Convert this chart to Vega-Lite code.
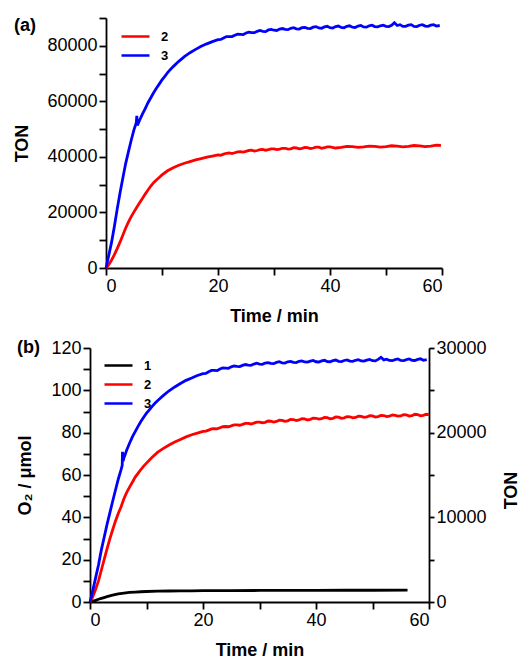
{
  "$schema": "https://vega.github.io/schema/vega-lite/v6.json",
  "padding": {"left": 13, "top": 17, "right": 0, "bottom": 0},
  "background": "white",
  "config": {
    "view": {"stroke": null},
    "font": "Liberation Sans",
    "axis": {
      "grid": false,
      "domainColor": "#000",
      "domainWidth": 1.8,
      "tickColor": "#000",
      "tickWidth": 1.8,
      "tickSize": 7,
      "labelFont": "Liberation Sans",
      "labelFontSize": 18,
      "labelColor": "#000",
      "labelPadding": 2,
      "titleFont": "Liberation Sans",
      "titleFontSize": 18,
      "titleFontWeight": "bold",
      "titleColor": "#000"
    },
    "legend": {
      "labelFont": "Liberation Sans",
      "labelFontSize": 13,
      "labelFontWeight": "bold",
      "labelColor": "#000",
      "symbolType": "M-2,0H2",
      "symbolSize": 196,
      "symbolStrokeWidth": 2.5,
      "symbolOffset": 7,
      "labelOffset": 17,
      "rowPadding": 3,
      "padding": 0,
      "title": null
    }
  },
  "columns": 1,
  "spacing": 14,
  "resolve": {"scale": {"color": "independent"}},
  "datasets": {
    "a": [
      {"t": 0, "v": 0, "s": "2"}, {"t": 0.5, "v": 1200, "s": "2"}, {"t": 1, "v": 2900, "s": "2"}, {"t": 1.5, "v": 4800, "s": "2"}, {"t": 2, "v": 7000, "s": "2"}, {"t": 2.5, "v": 9300, "s": "2"}, {"t": 3, "v": 11800, "s": "2"}, {"t": 3.5, "v": 14300, "s": "2"}, {"t": 4, "v": 16500, "s": "2"}, {"t": 4.5, "v": 18500, "s": "2"}, {"t": 5, "v": 20200, "s": "2"}, {"t": 5.5, "v": 21900, "s": "2"}, {"t": 6, "v": 23500, "s": "2"}, {"t": 6.5, "v": 25000, "s": "2"}, {"t": 7, "v": 26600, "s": "2"}, {"t": 7.5, "v": 28100, "s": "2"}, {"t": 8, "v": 29500, "s": "2"}, {"t": 8.5, "v": 30700, "s": "2"}, {"t": 9, "v": 31700, "s": "2"}, {"t": 9.5, "v": 32600, "s": "2"}, {"t": 10, "v": 33500, "s": "2"}, {"t": 11, "v": 35000, "s": "2"}, {"t": 12, "v": 36100, "s": "2"}, {"t": 13, "v": 37000, "s": "2"}, {"t": 14, "v": 37700, "s": "2"}, {"t": 15, "v": 38300, "s": "2"}, {"t": 16, "v": 38900, "s": "2"}, {"t": 17, "v": 39400, "s": "2"}, {"t": 18, "v": 39900, "s": "2"}, {"t": 19, "v": 40300, "s": "2"}, {"t": 20, "v": 40700, "s": "2"}, {"t": 20.5, "v": 40600, "s": "2"}, {"t": 21, "v": 41000, "s": "2"}, {"t": 21.5, "v": 41300, "s": "2"}, {"t": 22, "v": 41400, "s": "2"}, {"t": 22.5, "v": 41200, "s": "2"}, {"t": 23, "v": 41500, "s": "2"}, {"t": 23.5, "v": 41800, "s": "2"}, {"t": 24, "v": 41900, "s": "2"}, {"t": 24.5, "v": 41700, "s": "2"}, {"t": 25, "v": 42000, "s": "2"}, {"t": 25.5, "v": 42300, "s": "2"}, {"t": 26, "v": 42400, "s": "2"}, {"t": 26.5, "v": 42100, "s": "2"}, {"t": 27, "v": 42300, "s": "2"}, {"t": 27.5, "v": 42600, "s": "2"}, {"t": 28, "v": 42700, "s": "2"}, {"t": 28.5, "v": 42400, "s": "2"}, {"t": 29, "v": 42600, "s": "2"}, {"t": 29.5, "v": 42900, "s": "2"}, {"t": 30, "v": 42900, "s": "2"}, {"t": 30.5, "v": 42600, "s": "2"}, {"t": 31, "v": 42800, "s": "2"}, {"t": 31.5, "v": 43100, "s": "2"}, {"t": 32, "v": 43100, "s": "2"}, {"t": 32.5, "v": 42800, "s": "2"}, {"t": 33, "v": 42900, "s": "2"}, {"t": 33.5, "v": 43300, "s": "2"}, {"t": 34, "v": 43200, "s": "2"}, {"t": 34.5, "v": 42900, "s": "2"}, {"t": 35, "v": 43100, "s": "2"}, {"t": 35.5, "v": 43400, "s": "2"}, {"t": 36, "v": 43300, "s": "2"}, {"t": 36.5, "v": 43000, "s": "2"}, {"t": 37, "v": 43200, "s": "2"}, {"t": 37.5, "v": 43500, "s": "2"}, {"t": 38, "v": 43500, "s": "2"}, {"t": 38.5, "v": 43100, "s": "2"}, {"t": 39, "v": 43300, "s": "2"}, {"t": 39.5, "v": 43600, "s": "2"}, {"t": 40, "v": 43600, "s": "2"}, {"t": 41, "v": 43200, "s": "2"}, {"t": 42, "v": 43400, "s": "2"}, {"t": 43, "v": 43800, "s": "2"}, {"t": 44, "v": 43700, "s": "2"}, {"t": 45, "v": 43400, "s": "2"}, {"t": 46, "v": 43600, "s": "2"}, {"t": 47, "v": 43900, "s": "2"}, {"t": 48, "v": 43800, "s": "2"}, {"t": 49, "v": 43500, "s": "2"}, {"t": 50, "v": 43700, "s": "2"}, {"t": 51, "v": 44000, "s": "2"}, {"t": 52, "v": 43900, "s": "2"}, {"t": 53, "v": 43600, "s": "2"}, {"t": 54, "v": 43800, "s": "2"}, {"t": 55, "v": 44100, "s": "2"}, {"t": 56, "v": 44000, "s": "2"}, {"t": 57, "v": 43700, "s": "2"}, {"t": 58, "v": 43900, "s": "2"}, {"t": 59, "v": 44200, "s": "2"}, {"t": 59.8, "v": 44100, "s": "2"},
      {"t": 0, "v": 0, "s": "3"}, {"t": 0.5, "v": 4600, "s": "3"}, {"t": 1, "v": 9300, "s": "3"}, {"t": 1.5, "v": 15000, "s": "3"}, {"t": 2, "v": 21200, "s": "3"}, {"t": 2.5, "v": 27000, "s": "3"}, {"t": 3, "v": 32300, "s": "3"}, {"t": 3.5, "v": 37500, "s": "3"}, {"t": 4, "v": 41800, "s": "3"}, {"t": 4.5, "v": 46000, "s": "3"}, {"t": 5, "v": 49800, "s": "3"}, {"t": 5.4, "v": 52200, "s": "3"}, {"t": 5.5, "v": 54800, "s": "3"}, {"t": 5.6, "v": 51300, "s": "3"}, {"t": 6, "v": 53200, "s": "3"}, {"t": 6.5, "v": 55400, "s": "3"}, {"t": 7, "v": 57400, "s": "3"}, {"t": 7.5, "v": 59500, "s": "3"}, {"t": 8, "v": 61300, "s": "3"}, {"t": 8.5, "v": 63100, "s": "3"}, {"t": 9, "v": 64700, "s": "3"}, {"t": 9.5, "v": 66200, "s": "3"}, {"t": 10, "v": 67700, "s": "3"}, {"t": 10.5, "v": 69000, "s": "3"}, {"t": 11, "v": 70300, "s": "3"}, {"t": 11.5, "v": 71500, "s": "3"}, {"t": 12, "v": 72500, "s": "3"}, {"t": 13, "v": 74400, "s": "3"}, {"t": 14, "v": 76100, "s": "3"}, {"t": 15, "v": 77500, "s": "3"}, {"t": 16, "v": 78700, "s": "3"}, {"t": 17, "v": 79800, "s": "3"}, {"t": 18, "v": 80700, "s": "3"}, {"t": 19, "v": 81500, "s": "3"}, {"t": 20, "v": 82200, "s": "3"}, {"t": 20.5, "v": 82300, "s": "3"}, {"t": 21, "v": 82800, "s": "3"}, {"t": 21.5, "v": 83300, "s": "3"}, {"t": 22, "v": 83300, "s": "3"}, {"t": 22.5, "v": 83300, "s": "3"}, {"t": 23, "v": 83800, "s": "3"}, {"t": 23.5, "v": 84200, "s": "3"}, {"t": 24, "v": 84100, "s": "3"}, {"t": 24.5, "v": 84000, "s": "3"}, {"t": 25, "v": 84600, "s": "3"}, {"t": 25.5, "v": 84900, "s": "3"}, {"t": 26, "v": 84700, "s": "3"}, {"t": 26.5, "v": 84700, "s": "3"}, {"t": 27, "v": 85200, "s": "3"}, {"t": 27.5, "v": 85500, "s": "3"}, {"t": 28, "v": 85200, "s": "3"}, {"t": 28.5, "v": 85100, "s": "3"}, {"t": 29, "v": 85700, "s": "3"}, {"t": 29.5, "v": 85900, "s": "3"}, {"t": 30, "v": 85600, "s": "3"}, {"t": 30.5, "v": 85500, "s": "3"}, {"t": 31, "v": 86000, "s": "3"}, {"t": 31.5, "v": 86200, "s": "3"}, {"t": 32, "v": 85900, "s": "3"}, {"t": 32.5, "v": 85800, "s": "3"}, {"t": 33, "v": 86300, "s": "3"}, {"t": 33.5, "v": 86500, "s": "3"}, {"t": 34, "v": 86100, "s": "3"}, {"t": 34.5, "v": 86000, "s": "3"}, {"t": 35, "v": 86500, "s": "3"}, {"t": 35.5, "v": 86600, "s": "3"}, {"t": 36, "v": 86300, "s": "3"}, {"t": 36.5, "v": 86200, "s": "3"}, {"t": 37, "v": 86700, "s": "3"}, {"t": 37.5, "v": 86900, "s": "3"}, {"t": 38, "v": 86400, "s": "3"}, {"t": 38.5, "v": 86300, "s": "3"}, {"t": 39, "v": 86800, "s": "3"}, {"t": 39.5, "v": 87000, "s": "3"}, {"t": 40, "v": 86500, "s": "3"}, {"t": 40.5, "v": 86400, "s": "3"}, {"t": 41, "v": 86900, "s": "3"}, {"t": 41.5, "v": 87100, "s": "3"}, {"t": 42, "v": 86600, "s": "3"}, {"t": 42.5, "v": 86500, "s": "3"}, {"t": 43, "v": 87000, "s": "3"}, {"t": 43.5, "v": 87200, "s": "3"}, {"t": 44, "v": 86700, "s": "3"}, {"t": 44.5, "v": 86600, "s": "3"}, {"t": 45, "v": 87100, "s": "3"}, {"t": 45.5, "v": 87300, "s": "3"}, {"t": 46, "v": 86800, "s": "3"}, {"t": 46.5, "v": 86700, "s": "3"}, {"t": 47, "v": 87200, "s": "3"}, {"t": 47.5, "v": 87400, "s": "3"}, {"t": 48, "v": 86900, "s": "3"}, {"t": 48.5, "v": 86800, "s": "3"}, {"t": 49, "v": 87200, "s": "3"}, {"t": 49.5, "v": 87400, "s": "3"}, {"t": 50, "v": 87000, "s": "3"}, {"t": 50.5, "v": 86900, "s": "3"}, {"t": 51, "v": 87400, "s": "3"}, {"t": 51.5, "v": 88300, "s": "3"}, {"t": 52, "v": 87300, "s": "3"}, {"t": 52.5, "v": 87600, "s": "3"}, {"t": 53, "v": 87000, "s": "3"}, {"t": 53.5, "v": 87000, "s": "3"}, {"t": 54, "v": 87400, "s": "3"}, {"t": 54.5, "v": 87600, "s": "3"}, {"t": 55, "v": 87000, "s": "3"}, {"t": 55.5, "v": 86900, "s": "3"}, {"t": 56, "v": 87400, "s": "3"}, {"t": 56.5, "v": 87600, "s": "3"}, {"t": 57, "v": 87100, "s": "3"}, {"t": 57.5, "v": 87000, "s": "3"}, {"t": 58, "v": 87400, "s": "3"}, {"t": 58.5, "v": 87600, "s": "3"}, {"t": 59, "v": 87100, "s": "3"}, {"t": 59.6, "v": 87300, "s": "3"}
    ],
    "b": [
      {"t": 0, "v": 0, "s": "1"}, {"t": 0.5, "v": 0.4, "s": "1"}, {"t": 1, "v": 0.8, "s": "1"}, {"t": 1.5, "v": 1.3, "s": "1"}, {"t": 2, "v": 1.7, "s": "1"}, {"t": 2.5, "v": 2.1, "s": "1"}, {"t": 3, "v": 2.5, "s": "1"}, {"t": 3.5, "v": 2.9, "s": "1"}, {"t": 4, "v": 3.2, "s": "1"}, {"t": 5, "v": 3.8, "s": "1"}, {"t": 6, "v": 4.2, "s": "1"}, {"t": 7, "v": 4.5, "s": "1"}, {"t": 8, "v": 4.7, "s": "1"}, {"t": 9, "v": 4.85, "s": "1"}, {"t": 10, "v": 4.95, "s": "1"}, {"t": 12, "v": 5.1, "s": "1"}, {"t": 14, "v": 5.2, "s": "1"}, {"t": 16, "v": 5.25, "s": "1"}, {"t": 18, "v": 5.3, "s": "1"}, {"t": 20, "v": 5.35, "s": "1"}, {"t": 25, "v": 5.4, "s": "1"}, {"t": 30, "v": 5.45, "s": "1"}, {"t": 35, "v": 5.5, "s": "1"}, {"t": 40, "v": 5.5, "s": "1"}, {"t": 45, "v": 5.55, "s": "1"}, {"t": 50, "v": 5.55, "s": "1"}, {"t": 56.2, "v": 5.6, "s": "1"},
      {"t": 0, "v": 0, "s": "2"}, {"t": 0.5, "v": 2.5, "s": "2"}, {"t": 1, "v": 6, "s": "2"}, {"t": 1.5, "v": 10, "s": "2"}, {"t": 2, "v": 15, "s": "2"}, {"t": 2.5, "v": 20, "s": "2"}, {"t": 3, "v": 25, "s": "2"}, {"t": 3.5, "v": 29.7, "s": "2"}, {"t": 4, "v": 34, "s": "2"}, {"t": 4.5, "v": 38.2, "s": "2"}, {"t": 5, "v": 41.8, "s": "2"}, {"t": 5.5, "v": 45, "s": "2"}, {"t": 6, "v": 48.8, "s": "2"}, {"t": 6.5, "v": 51.8, "s": "2"}, {"t": 7, "v": 54.3, "s": "2"}, {"t": 7.5, "v": 56.6, "s": "2"}, {"t": 8, "v": 59, "s": "2"}, {"t": 8.5, "v": 60.8, "s": "2"}, {"t": 9, "v": 62.6, "s": "2"}, {"t": 9.5, "v": 64.2, "s": "2"}, {"t": 10, "v": 65.6, "s": "2"}, {"t": 11, "v": 68.4, "s": "2"}, {"t": 12, "v": 70.8, "s": "2"}, {"t": 13, "v": 72.6, "s": "2"}, {"t": 14, "v": 74.2, "s": "2"}, {"t": 15, "v": 75.6, "s": "2"}, {"t": 16, "v": 76.8, "s": "2"}, {"t": 17, "v": 78, "s": "2"}, {"t": 18, "v": 79, "s": "2"}, {"t": 19, "v": 79.8, "s": "2"}, {"t": 20, "v": 80.6, "s": "2"}, {"t": 20.5, "v": 80.7, "s": "2"}, {"t": 21, "v": 81.2, "s": "2"}, {"t": 21.5, "v": 81.8, "s": "2"}, {"t": 22, "v": 81.9, "s": "2"}, {"t": 22.5, "v": 81.8, "s": "2"}, {"t": 23, "v": 82.3, "s": "2"}, {"t": 23.5, "v": 82.8, "s": "2"}, {"t": 24, "v": 82.9, "s": "2"}, {"t": 24.5, "v": 82.8, "s": "2"}, {"t": 25, "v": 83.2, "s": "2"}, {"t": 25.5, "v": 83.7, "s": "2"}, {"t": 26, "v": 83.7, "s": "2"}, {"t": 26.5, "v": 83.5, "s": "2"}, {"t": 27, "v": 83.9, "s": "2"}, {"t": 27.5, "v": 84.4, "s": "2"}, {"t": 28, "v": 84.4, "s": "2"}, {"t": 28.5, "v": 84.1, "s": "2"}, {"t": 29, "v": 84.5, "s": "2"}, {"t": 29.5, "v": 85, "s": "2"}, {"t": 30, "v": 85, "s": "2"}, {"t": 30.5, "v": 84.7, "s": "2"}, {"t": 31, "v": 84.9, "s": "2"}, {"t": 31.5, "v": 85.5, "s": "2"}, {"t": 32, "v": 85.4, "s": "2"}, {"t": 32.5, "v": 85, "s": "2"}, {"t": 33, "v": 85.3, "s": "2"}, {"t": 33.5, "v": 85.9, "s": "2"}, {"t": 34, "v": 85.8, "s": "2"}, {"t": 34.5, "v": 85.4, "s": "2"}, {"t": 35, "v": 85.6, "s": "2"}, {"t": 35.5, "v": 86.3, "s": "2"}, {"t": 36, "v": 86.2, "s": "2"}, {"t": 36.5, "v": 85.7, "s": "2"}, {"t": 37, "v": 86, "s": "2"}, {"t": 37.5, "v": 86.6, "s": "2"}, {"t": 38, "v": 86.5, "s": "2"}, {"t": 38.5, "v": 86, "s": "2"}, {"t": 39, "v": 86.3, "s": "2"}, {"t": 39.5, "v": 86.9, "s": "2"}, {"t": 40, "v": 86.8, "s": "2"}, {"t": 40.5, "v": 86.4, "s": "2"}, {"t": 41, "v": 86.6, "s": "2"}, {"t": 41.5, "v": 87.2, "s": "2"}, {"t": 42, "v": 87.1, "s": "2"}, {"t": 42.5, "v": 86.6, "s": "2"}, {"t": 43, "v": 86.8, "s": "2"}, {"t": 43.5, "v": 87.4, "s": "2"}, {"t": 44, "v": 87.3, "s": "2"}, {"t": 44.5, "v": 86.8, "s": "2"}, {"t": 45, "v": 87, "s": "2"}, {"t": 45.5, "v": 87.6, "s": "2"}, {"t": 46, "v": 87.5, "s": "2"}, {"t": 46.5, "v": 87, "s": "2"}, {"t": 47, "v": 87.2, "s": "2"}, {"t": 47.5, "v": 87.8, "s": "2"}, {"t": 48, "v": 87.7, "s": "2"}, {"t": 48.5, "v": 87.2, "s": "2"}, {"t": 49, "v": 87.4, "s": "2"}, {"t": 49.5, "v": 88, "s": "2"}, {"t": 50, "v": 87.9, "s": "2"}, {"t": 50.5, "v": 87.4, "s": "2"}, {"t": 51, "v": 87.6, "s": "2"}, {"t": 51.5, "v": 88.2, "s": "2"}, {"t": 52, "v": 88.1, "s": "2"}, {"t": 52.5, "v": 87.6, "s": "2"}, {"t": 53, "v": 87.8, "s": "2"}, {"t": 53.5, "v": 88.4, "s": "2"}, {"t": 54, "v": 88.2, "s": "2"}, {"t": 54.5, "v": 87.8, "s": "2"}, {"t": 55, "v": 87.9, "s": "2"}, {"t": 55.5, "v": 88.5, "s": "2"}, {"t": 56, "v": 88.4, "s": "2"}, {"t": 56.5, "v": 87.9, "s": "2"}, {"t": 57, "v": 88.1, "s": "2"}, {"t": 57.5, "v": 88.7, "s": "2"}, {"t": 58, "v": 88.5, "s": "2"}, {"t": 58.5, "v": 88, "s": "2"}, {"t": 59, "v": 88.2, "s": "2"}, {"t": 59.5, "v": 88.7, "s": "2"}, {"t": 60, "v": 88.5, "s": "2"},
      {"t": 0, "v": 0, "s": "3"}, {"t": 0.5, "v": 5.5, "s": "3"}, {"t": 1, "v": 11.5, "s": "3"}, {"t": 1.5, "v": 17.5, "s": "3"}, {"t": 2, "v": 24.5, "s": "3"}, {"t": 2.5, "v": 30.5, "s": "3"}, {"t": 3, "v": 36.5, "s": "3"}, {"t": 3.5, "v": 42, "s": "3"}, {"t": 4, "v": 47.5, "s": "3"}, {"t": 4.5, "v": 52.8, "s": "3"}, {"t": 5, "v": 58, "s": "3"}, {"t": 5.5, "v": 62.5, "s": "3"}, {"t": 5.7, "v": 64.5, "s": "3"}, {"t": 5.75, "v": 71, "s": "3"}, {"t": 5.85, "v": 66.5, "s": "3"}, {"t": 6, "v": 68, "s": "3"}, {"t": 6.5, "v": 71.8, "s": "3"}, {"t": 7, "v": 75, "s": "3"}, {"t": 7.5, "v": 78, "s": "3"}, {"t": 8, "v": 80.5, "s": "3"}, {"t": 8.5, "v": 83, "s": "3"}, {"t": 9, "v": 85.3, "s": "3"}, {"t": 9.5, "v": 87.3, "s": "3"}, {"t": 10, "v": 89.2, "s": "3"}, {"t": 10.5, "v": 90.8, "s": "3"}, {"t": 11, "v": 92.4, "s": "3"}, {"t": 11.5, "v": 93.9, "s": "3"}, {"t": 12, "v": 95.2, "s": "3"}, {"t": 13, "v": 97.6, "s": "3"}, {"t": 14, "v": 99.8, "s": "3"}, {"t": 15, "v": 101.6, "s": "3"}, {"t": 16, "v": 103.2, "s": "3"}, {"t": 17, "v": 104.7, "s": "3"}, {"t": 18, "v": 105.8, "s": "3"}, {"t": 19, "v": 107, "s": "3"}, {"t": 20, "v": 107.9, "s": "3"}, {"t": 20.5, "v": 108, "s": "3"}, {"t": 21, "v": 108.8, "s": "3"}, {"t": 21.5, "v": 109.4, "s": "3"}, {"t": 22, "v": 109.4, "s": "3"}, {"t": 22.5, "v": 109.3, "s": "3"}, {"t": 23, "v": 110.1, "s": "3"}, {"t": 23.5, "v": 110.6, "s": "3"}, {"t": 24, "v": 110.5, "s": "3"}, {"t": 24.5, "v": 110.4, "s": "3"}, {"t": 25, "v": 111.1, "s": "3"}, {"t": 25.5, "v": 111.5, "s": "3"}, {"t": 26, "v": 111.3, "s": "3"}, {"t": 26.5, "v": 111.2, "s": "3"}, {"t": 27, "v": 111.8, "s": "3"}, {"t": 27.5, "v": 112.2, "s": "3"}, {"t": 28, "v": 111.9, "s": "3"}, {"t": 28.5, "v": 111.8, "s": "3"}, {"t": 29, "v": 112.4, "s": "3"}, {"t": 29.5, "v": 112.8, "s": "3"}, {"t": 30, "v": 112.4, "s": "3"}, {"t": 30.5, "v": 112.3, "s": "3"}, {"t": 31, "v": 112.9, "s": "3"}, {"t": 31.5, "v": 113.1, "s": "3"}, {"t": 32, "v": 112.7, "s": "3"}, {"t": 32.5, "v": 112.6, "s": "3"}, {"t": 33, "v": 113.2, "s": "3"}, {"t": 33.5, "v": 113.5, "s": "3"}, {"t": 34, "v": 113, "s": "3"}, {"t": 34.5, "v": 112.9, "s": "3"}, {"t": 35, "v": 113.5, "s": "3"}, {"t": 35.5, "v": 113.7, "s": "3"}, {"t": 36, "v": 113.2, "s": "3"}, {"t": 36.5, "v": 113.1, "s": "3"}, {"t": 37, "v": 113.7, "s": "3"}, {"t": 37.5, "v": 113.9, "s": "3"}, {"t": 38, "v": 113.4, "s": "3"}, {"t": 38.5, "v": 113.3, "s": "3"}, {"t": 39, "v": 113.8, "s": "3"}, {"t": 39.5, "v": 114.1, "s": "3"}, {"t": 40, "v": 113.5, "s": "3"}, {"t": 40.5, "v": 113.4, "s": "3"}, {"t": 41, "v": 113.9, "s": "3"}, {"t": 41.5, "v": 114.2, "s": "3"}, {"t": 42, "v": 113.6, "s": "3"}, {"t": 42.5, "v": 113.5, "s": "3"}, {"t": 43, "v": 114, "s": "3"}, {"t": 43.5, "v": 114.3, "s": "3"}, {"t": 44, "v": 113.7, "s": "3"}, {"t": 44.5, "v": 113.6, "s": "3"}, {"t": 45, "v": 114.1, "s": "3"}, {"t": 45.5, "v": 114.4, "s": "3"}, {"t": 46, "v": 113.8, "s": "3"}, {"t": 46.5, "v": 113.7, "s": "3"}, {"t": 47, "v": 114.2, "s": "3"}, {"t": 47.5, "v": 114.5, "s": "3"}, {"t": 48, "v": 113.9, "s": "3"}, {"t": 48.5, "v": 113.8, "s": "3"}, {"t": 49, "v": 114.3, "s": "3"}, {"t": 49.5, "v": 114.6, "s": "3"}, {"t": 50, "v": 114, "s": "3"}, {"t": 50.5, "v": 113.9, "s": "3"}, {"t": 51, "v": 114.6, "s": "3"}, {"t": 51.5, "v": 115.6, "s": "3"}, {"t": 52, "v": 114.4, "s": "3"}, {"t": 52.5, "v": 114.7, "s": "3"}, {"t": 53, "v": 114.1, "s": "3"}, {"t": 53.5, "v": 114, "s": "3"}, {"t": 54, "v": 114.5, "s": "3"}, {"t": 54.5, "v": 114.8, "s": "3"}, {"t": 55, "v": 114.1, "s": "3"}, {"t": 55.5, "v": 114, "s": "3"}, {"t": 56, "v": 114.5, "s": "3"}, {"t": 56.5, "v": 114.8, "s": "3"}, {"t": 57, "v": 114.2, "s": "3"}, {"t": 57.5, "v": 114.1, "s": "3"}, {"t": 58, "v": 114.6, "s": "3"}, {"t": 58.5, "v": 114.9, "s": "3"}, {"t": 59, "v": 114.2, "s": "3"}, {"t": 59.6, "v": 114.5, "s": "3"}
    ]
  },
  "concat": [
    {
      "width": 352,
      "height": 250,
      "title": {"text": "(a)", "anchor": "start", "frame": "bounds", "fontSize": 18, "fontWeight": "bold", "font": "Liberation Sans", "color": "#000", "offset": 0, "dy": 18},
      "data": {"name": "a"},
      "mark": {"type": "line", "strokeWidth": 2.8, "clip": false},
      "encoding": {
        "x": {"field": "t", "type": "quantitative", "scale": {"domain": [0, 60], "range": [16, 352], "nice": false, "zero": false},
              "axis": {"values": [0, 10, 20, 30, 40, 50, 60], "labelExpr": "datum.value % 20 === 0 ? datum.label : ''",
                       "encode": {"ticks": {"update": {"y2": {"signal": "datum.value % 20 === 0 ? 7 : 4"}}}},
                       "title": "Time / min", "titlePadding": 12, "labelPadding": 2}},
        "y": {"field": "v", "type": "quantitative", "scale": {"domain": [0, 90000], "nice": false},
              "axis": {"offset": -16, "values": [0, 10000, 20000, 30000, 40000, 50000, 60000, 70000, 80000, 90000], "format": "d",
                       "labelExpr": "datum.value % 20000 === 0 ? datum.label : ''",
                       "encode": {"ticks": {"update": {"x2": {"signal": "datum.value % 20000 === 0 ? -7 : -4"}}}},
                       "title": "TON", "titlePadding": 15}},
        "color": {"field": "s", "type": "nominal",
                  "scale": {"domain": ["2", "3"], "range": ["#ff0000", "#0000ff"]},
                  "legend": {"orient": "none", "legendX": 30, "legendY": 10, "rowPadding": 3}}
      }
    },
    {
      "width": 339,
      "height": 254,
      "title": {"text": "(b)", "anchor": "start", "frame": "bounds", "fontSize": 18, "fontWeight": "bold", "font": "Liberation Sans", "color": "#000", "offset": 0, "dy": 18},
      "layer": [
        {
          "data": {"name": "b"},
          "mark": {"type": "line", "strokeWidth": 2.8, "clip": false},
          "encoding": {
            "x": {"field": "t", "type": "quantitative", "scale": {"domain": [0, 60], "nice": false, "zero": false},
                  "axis": {"values": [0, 10, 20, 30, 40, 50, 60], "labelExpr": "datum.value % 20 === 0 ? datum.label : ''",
                           "encode": {"ticks": {"update": {"y2": {"signal": "datum.value % 20 === 0 ? 7 : 4"}}}},
                           "title": "Time / min", "titlePadding": 12, "labelPadding": 2}},
            "y": {"field": "v", "type": "quantitative", "scale": {"domain": [0, 120], "nice": false},
                  "axis": {"orient": "left", "values": [0, 10, 20, 30, 40, 50, 60, 70, 80, 90, 100, 110, 120],
                           "labelExpr": "datum.value % 20 === 0 ? datum.label : ''",
                           "encode": {"ticks": {"update": {"x2": {"signal": "datum.value % 20 === 0 ? -7 : -4"}}}},
                           "title": "O₂ / μmol", "titlePadding": 16}},
            "color": {"field": "s", "type": "nominal",
                      "scale": {"domain": ["1", "2", "3"], "range": ["#000000", "#ff0000", "#0000ff"]},
                      "legend": {"orient": "none", "legendX": 13, "legendY": 9, "rowPadding": 3}}
          }
        },
        {
          "mark": {"type": "point", "opacity": 0},
          "encoding": {
            "x": {"datum": 30, "type": "quantitative"},
            "y": {"datum": 0, "type": "quantitative", "scale": {"domain": [0, 30000], "nice": false},
                  "axis": {"orient": "right", "values": [0, 5000, 10000, 15000, 20000, 25000, 30000], "format": "d",
                           "labelExpr": "datum.value % 10000 === 0 ? datum.label : ''",
                           "tickSize": 5, "labelPadding": 2,
                           "encode": {"ticks": {"update": {"x2": {"signal": "datum.value % 10000 === 0 ? 5 : 3"}}}},
                           "title": "TON", "titleAngle": 270, "titlePadding": 34, "titleY": 142}}
          }
        }
      ],
      "resolve": {"scale": {"y": "independent"}, "axis": {"y": "independent"}}
    }
  ]
}
